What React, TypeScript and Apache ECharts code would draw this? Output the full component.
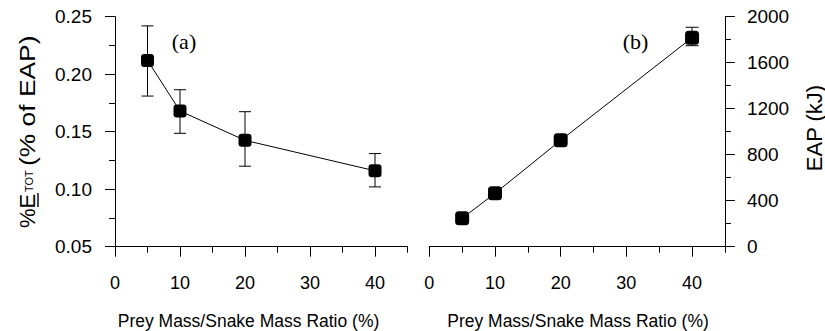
import React, { useEffect, useRef } from "react";
import * as echarts from "echarts";

// ---- data ----
const xTickValues = [0, 10, 20, 30, 40];
const ratioA = [5, 10, 20, 40];
const etotPct = [0.212, 0.168, 0.1425, 0.116];
const etotLow = [0.181, 0.1486, 0.12, 0.102];
const etotHigh = [0.242, 0.1865, 0.1674, 0.131];

const ratioB = [5, 10, 20, 40];
const eapKJ = [247, 464, 925, 1817];
const eapLow = [222, 440, 900, 1748];
const eapHigh = [272, 488, 950, 1908];

const xAxisTitle = "Prey Mass/Snake Mass Ratio (%)";

const FONT = "'Liberation Sans', Arial, Helvetica, sans-serif";
const SERIF = "'Liberation Serif', 'Times New Roman', serif";

function errRender(cap: number) {
  return (params: any, api: any) => {
    const x = api.value(0);
    const lo = api.coord([x, api.value(1)]);
    const hi = api.coord([x, api.value(2)]);
    const st = { stroke: "#000", lineWidth: 1 };
    return {
      type: "group",
      children: [
        { type: "line", shape: { x1: lo[0], y1: lo[1], x2: hi[0], y2: hi[1] }, style: st },
        { type: "line", shape: { x1: lo[0] - cap, y1: lo[1], x2: lo[0] + cap, y2: lo[1] }, style: st },
        { type: "line", shape: { x1: hi[0] - cap, y1: hi[1], x2: hi[0] + cap, y2: hi[1] }, style: st },
      ],
    };
  };
}

function xAxesFor(gridIndex: number) {
  const common = {
    gridIndex,
    type: "value",
    min: 0,
    max: 45,
    interval: 5,
    position: "bottom",
    splitLine: { show: false },
  };
  return [
    {
      ...common,
      axisLine: { show: true, onZero: false, lineStyle: { color: "#000", width: 1 } },
      axisTick: { show: true, length: 6, lineStyle: { color: "#000", width: 1 } },
      axisLabel: { show: false },
    },
    {
      ...common,
      axisLine: { show: false, onZero: false },
      axisTick: { show: true, length: 10, customValues: xTickValues, lineStyle: { color: "#000", width: 1 } },
      axisLabel: {
        show: true,
        customValues: xTickValues,
        margin: 27,
        color: "#000",
        fontSize: 18,
        fontFamily: FONT,
      },
    },
  ];
}

export default function App() {
  const ref = useRef<HTMLDivElement>(null);
  useEffect(() => {
    document.body.style.margin = "0";
    const chart = echarts.init(ref.current!, null, { renderer: "svg" });
    const yCommon = {
      type: "value",
      splitLine: { show: false },
      minorSplitLine: { show: false },
      axisLine: { show: true, onZero: false, lineStyle: { color: "#000", width: 1 } },
      axisTick: { show: true, length: 10, lineStyle: { color: "#000", width: 1 } },
      minorTick: { show: true, splitNumber: 2, length: 6, lineStyle: { color: "#000", width: 1 } },
    };
    const option: any = {
      animation: false,
      grid: [
        { left: 115, top: 16.7, width: 292.5, height: 230 },
        { left: 429.3, top: 16.7, width: 295.6, height: 230 },
      ],
      xAxis: [...xAxesFor(0), ...xAxesFor(1)],
      yAxis: [
        {
          ...yCommon,
          gridIndex: 0,
          position: "left",
          min: 0.05,
          max: 0.25,
          interval: 0.05,
          axisLabel: {
            margin: 23,
            color: "#000",
            fontSize: 19,
            fontFamily: FONT,
            formatter: (v: number) => v.toFixed(2),
          },
        },
        {
          ...yCommon,
          gridIndex: 1,
          position: "right",
          min: 0,
          max: 2000,
          interval: 400,
          axisLabel: {
            margin: 22,
            color: "#000",
            fontSize: 19,
            fontFamily: FONT,
            formatter: (v: number) => String(v),
          },
        },
      ],
      series: [
        {
          type: "custom",
          xAxisIndex: 0,
          yAxisIndex: 0,
          renderItem: errRender(6),
          encode: { x: 0, y: [1, 2] },
          data: ratioA.map((x, i) => [x, etotLow[i], etotHigh[i]]),
          z: 2,
        },
        {
          type: "line",
          xAxisIndex: 0,
          yAxisIndex: 0,
          data: ratioA.map((x, i) => [x, etotPct[i]]),
          symbol: "roundRect",
          symbolSize: 13,
          itemStyle: { color: "#000" },
          lineStyle: { color: "#000", width: 1 },
          z: 3,
        },
        {
          type: "custom",
          xAxisIndex: 2,
          yAxisIndex: 1,
          renderItem: errRender(6.5),
          encode: { x: 0, y: [1, 2] },
          data: ratioB.map((x, i) => [x, eapLow[i], eapHigh[i]]),
          z: 2,
        },
        {
          type: "line",
          xAxisIndex: 2,
          yAxisIndex: 1,
          data: ratioB.map((x, i) => [x, eapKJ[i]]),
          symbol: "roundRect",
          symbolSize: 14,
          itemStyle: { color: "#000" },
          lineStyle: { color: "#000", width: 1 },
          z: 3,
        },
      ],
      graphic: [
        {
          type: "text",
          x: 184,
          y: 41,
          style: { text: "(a)", font: `22px ${SERIF}`, fill: "#000", align: "center", verticalAlign: "middle" },
        },
        {
          type: "text",
          x: 635.5,
          y: 41,
          style: { text: "(b)", font: `22px ${SERIF}`, fill: "#000", align: "center", verticalAlign: "middle" },
        },
        {
          type: "text",
          x: 248.5,
          y: 320.7,
          style: { text: xAxisTitle, font: `17.5px ${FONT}`, fill: "#000", align: "center", verticalAlign: "middle" },
        },
        {
          type: "text",
          x: 578,
          y: 320.7,
          style: { text: xAxisTitle, font: `17.5px ${FONT}`, fill: "#000", align: "center", verticalAlign: "middle" },
        },
        {
          type: "text",
          x: 814,
          y: 128,
          rotation: Math.PI / 2,
          style: { text: "EAP (kJ)", font: `22px ${FONT}`, fill: "#000", align: "center", verticalAlign: "middle" },
        },
        {
          type: "group",
          x: 35,
          y: 228,
          rotation: Math.PI / 2,
          children: [
            { type: "text", x: 0, y: -7.6, style: { text: "%", font: `22px ${FONT}`, fill: "#000", align: "left", verticalAlign: "middle" } },
            { type: "text", x: 19.6, y: -7.6, style: { text: "E", font: `22px ${FONT}`, fill: "#000", align: "left", verticalAlign: "middle" } },
            { type: "line", shape: { x1: 21, y1: 3, x2: 35, y2: 3 }, style: { stroke: "#000", lineWidth: 1.4 } },
            { type: "text", x: 36, y: -5.8, style: { text: "TOT", font: `11px ${FONT}`, fill: "#000", align: "left", verticalAlign: "middle" } },
            { type: "text", x: 62, y: -7.6, scaleX: 1.2, style: { text: "(% of EAP)", font: `22px ${FONT}`, fill: "#000", align: "left", verticalAlign: "middle" } },
          ],
        },
      ],
    };
    chart.setOption(option);
    return () => chart.dispose();
  }, []);
  return <div ref={ref} style={{ width: 825, height: 331 }} />;
}
